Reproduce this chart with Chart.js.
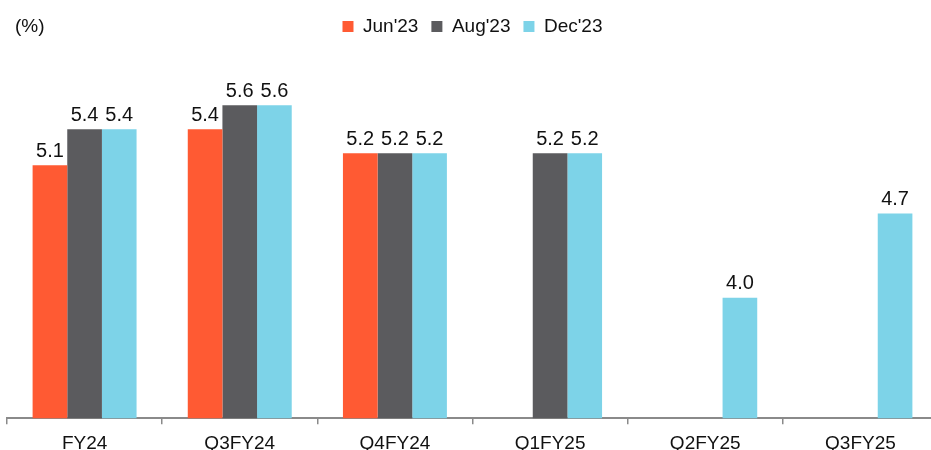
<!DOCTYPE html>
<html>
<head>
<meta charset="utf-8">
<script src="https://cdn.jsdelivr.net/npm/chart.js@4/dist/chart.umd.min.js"></script>
<style>
  html, body { margin: 0; padding: 0; background: #fff; overflow: hidden; }
  #wrap { position: relative; width: 945px; height: 467px; }
</style>
</head>
<body>
<div id="wrap"><canvas id="rate_chart"></canvas></div>
<script>
const categories = ['FY24', 'Q3FY24', 'Q4FY24', 'Q1FY25', 'Q2FY25', 'Q3FY25'];
const seriesNames = ["Jun'23", "Aug'23", "Dec'23"];
const jun23 = [5.1, 5.4, 5.2, null, null, null];
const aug23 = [5.4, 5.6, 5.2, 5.2, null, null];
const dec23 = [5.4, 5.6, 5.2, 5.2, 4.0, 4.7];

const FONT = "'Liberation Sans', Arial, sans-serif";
const FSIZE = 19;
const TEXT = '#111111';

// value labels above bars
const barLabels = {
    id: 'barLabels',
    afterDatasetsDraw(chart){
        const ctx = chart.ctx;
        ctx.save();
        ctx.font = `${FSIZE+1}px ${FONT}`;
        ctx.fillStyle = TEXT;
        ctx.textAlign = 'center';
        ctx.textBaseline = 'bottom';
        chart.data.datasets.forEach((ds, i) => {
            chart.getDatasetMeta(i).data.forEach((bar, j) => {
                const v = ds.data[j];
                if(v === null) return;
                ctx.fillText(v.toFixed(1), bar.x, bar.y - 4);
            });
        });
        ctx.restore();
    }
};

// "(%)" unit note top left
const unitNote = {
    id: 'unitNote',
    afterDraw(chart){
        const ctx = chart.ctx;
        ctx.save();
        ctx.font = `${FSIZE}px ${FONT}`;
        ctx.fillStyle = TEXT;
        ctx.textAlign = 'left';
        ctx.textBaseline = 'middle';
        ctx.fillText('(%)', 15, 27);
        ctx.restore();
    }
};

// fixed legend block height so the plot starts where it should
const legendHeight = {
    id: 'legendHeight',
    beforeInit(chart){
        const fit = chart.legend.fit;
        chart.legend.fit = function(){
            fit.call(this);
            this.height = 53;
        };
    }
};

new Chart(document.getElementById('rate_chart'), {
    type: 'bar',
    data: {
        labels: categories,
        datasets: [{
            label: seriesNames[0],
            data: jun23,
            backgroundColor: '#FF5A33'
        }, {
            label: seriesNames[1],
            data: aug23,
            backgroundColor: '#5B5B5E'
        }, {
            label: seriesNames[2],
            data: dec23,
            backgroundColor: '#7DD3E8'
        }]
    },
    options: {
        responsive: true,
        maintainAspectRatio: false,
        animation: false,
        categoryPercentage: 0.67,
        barPercentage: 1.0,
        layout: {
            padding: {left: 7, right: 7, top: 4, bottom: 4}
        },
        plugins: {
            legend: {
                position: 'top',
                align: 'center',
                labels: {
                    boxWidth: 11,
                    boxHeight: 11,
                    padding: 13,
                    color: TEXT,
                    font: {family: FONT, size: FSIZE}
                }
            },
            tooltip: {enabled: false}
        },
        scales: {
            x: {
                grid: {
                    drawOnChartArea: false,
                    drawTicks: true,
                    tickLength: 6,
                    color: '#8a8a8a',
                    lineWidth: 1.5
                },
                border: {color: '#8a8a8a', width: 2},
                ticks: {
                    color: TEXT,
                    padding: 8,
                    font: {family: FONT, size: FSIZE}
                }
            },
            y: {
                display: false,
                min: 3,
                max: 6
            }
        }
    },
    plugins: [barLabels, unitNote, legendHeight]
});
</script>
</body>
</html>
